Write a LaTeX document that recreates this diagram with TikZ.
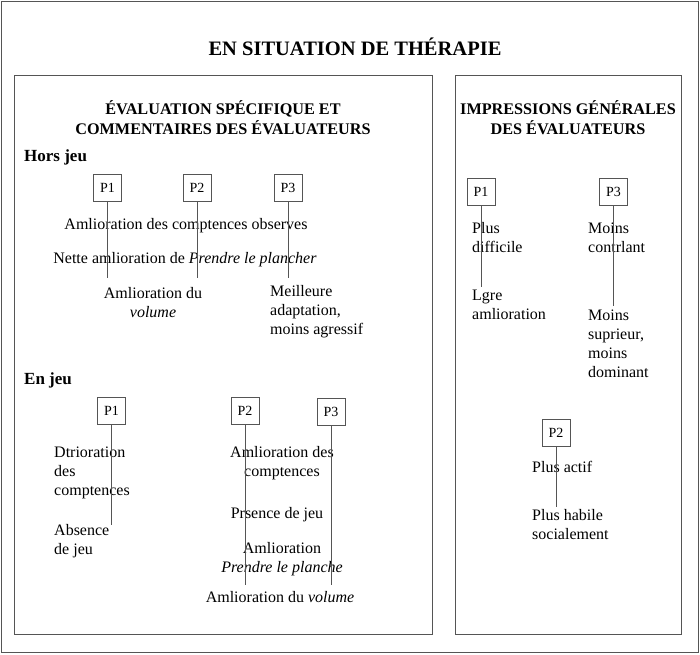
\documentclass[tikz,border=0pt]{standalone}
\usepackage{fontspec}
\setmainfont{Liberation Serif}
\usetikzlibrary{positioning}
\definecolor{framegray}{RGB}{85,85,85}

\tikzset{
  frame/.style={draw=framegray, line width=1pt},
  pbox/.style={draw=framegray, line width=0.9pt, minimum width=28pt,
               minimum height=27pt, inner sep=0pt, font=\fontsize{14}{16}\selectfont},
  stem/.style={draw=framegray, line width=0.9pt},
  txt/.style={inner sep=0pt, font=\fontsize{16}{19}\selectfont},
  ltxt/.style={txt, anchor=west, align=left},
  ctxt/.style={txt, align=center},
  heading/.style={inner sep=0pt, align=center, font=\bfseries\fontsize{16.2}{19.5}\selectfont},
  part/.style={inner sep=0pt, anchor=west, font=\bfseries\fontsize{17}{20}\selectfont}
}

\begin{document}
\begin{tikzpicture}[x=1pt, y=-1pt]
    \useasboundingbox (0,0) rectangle (700,654);

    % frames
    \draw[frame] (1,1) rectangle (698,652);
    \draw[frame] (14,75) rectangle (432,634);
    \draw[frame] (455,75) rectangle (681,634);

    \node[inner sep=0pt, font=\bfseries\fontsize{20.5}{24}\selectfont] (title) at (355,47) {EN SITUATION DE THÉRAPIE};

    % left panel
    \node[heading] (lhead) at (223,117.5) {ÉVALUATION SPÉCIFIQUE ET\\COMMENTAIRES DES ÉVALUATEURS};

    \node[part] (hors) at (24,157) {Hors jeu};
    \node[pbox] (hp1) at (107.5,188) {P1};
    \node[pbox] (hp2) at (197,188) {P2};
    \node[pbox] (hp3) at (288,188) {P3};
    \coordinate (hp1e) at (107.5,278);
    \coordinate (hp2e) at (197,278);
    \coordinate (hp3e) at (288,278);

    \node[ctxt] (hobs) at (186,226) {Amlioration des comptences observes};
    \node[ctxt] (hnet) at (185,260) {Nette amlioration de \textit{Prendre le plancher}};
    \node[ctxt] (hvol) at (153,302.5) {Amlioration du\\\textit{volume}};
    \node[ltxt] (hadapt) at (270,312) {Meilleure\\adaptation,\\moins agressif};

    \draw[stem] (hp1) -- (hp1e);
    \draw[stem] (hp2) -- (hp2e);
    \draw[stem] (hp3) -- (hp3e);

    \node[part] (enjeu) at (24,380) {En jeu};
    \node[pbox] (ep1) at (111.5,411) {P1};
    \node[pbox] (ep2) at (245,411) {P2};
    \node[pbox] (ep3) at (331,412) {P3};
    \coordinate (ep1e) at (111.5,525);
    \coordinate (ep2e) at (245,585);
    \coordinate (ep3e) at (331,585);

    \node[ltxt] (edet) at (54,473) {Dtrioration\\des\\comptences};
    \node[ltxt] (eabs) at (54,541.5) {Absence\\de jeu};
    \node[ctxt] (ecomp) at (282,463) {Amlioration des\\comptences};
    \node[ctxt] (epres) at (277,515) {Prsence de jeu};
    \node[ctxt] (eplan) at (282,559.5) {Amlioration\\\textit{Prendre le planche}};
    \node[ctxt] (evol) at (280,597) {Amlioration du \textit{volume}};

    \draw[stem] (ep1) -- (ep1e);
    \draw[stem] (ep2) -- (ep2e);
    \draw[stem] (ep3) -- (ep3e);

    % right panel
    \node[heading] (rhead) at (568,117.5) {IMPRESSIONS GÉNÉRALES\\DES ÉVALUATEURS};

    \node[pbox] (rp1) at (481,191.5) {P1};
    \node[pbox] (rp3) at (613.5,191.5) {P3};
    \node[pbox] (rp2) at (556,432.5) {P2};
    \coordinate (rp1e) at (481,287);
    \coordinate (rp3e) at (613.5,306);
    \coordinate (rp2e) at (556,507);

    \node[ltxt] (rdiff) at (472,237.5) {Plus\\difficile};
    \node[ltxt] (rlegre) at (472,305) {Lgre\\amlioration};
    \node[ltxt] (rctrl) at (588,237.5) {Moins\\contrlant};
    \node[ltxt] (rsup) at (588,344) {Moins\\suprieur,\\moins\\dominant};
    \node[ltxt] (ractif) at (532,467) {Plus actif};
    \node[ltxt] (rhabile) at (532,525) {Plus habile\\socialement};

    \draw[stem] (rp1) -- (rp1e);
    \draw[stem] (rp3) -- (rp3e);
    \draw[stem] (rp2) -- (rp2e);
\end{tikzpicture}
\end{document}
